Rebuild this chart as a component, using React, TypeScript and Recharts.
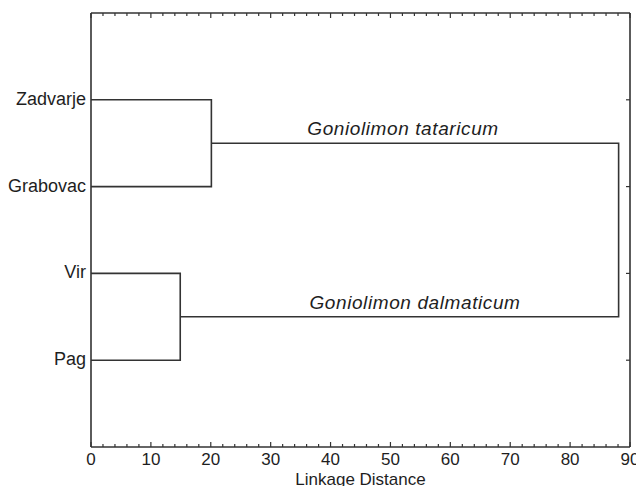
import React from 'react'
import { LineChart, Line, XAxis, YAxis, ReferenceDot } from 'recharts'

const FONT = '"Liberation Sans", Arial, sans-serif'
const INK = '#1e1e1e'
const EDGE = '#333'

// leaves, top to bottom
const leaves = ['Zadvarje', 'Grabovac', 'Vir', 'Pag']
const leafPos = [1, 2, 3, 4]

// linkage distance ticks (minor every 2, labelled every 10)
const xTicks = [0, 2, 4, 6, 8, 10, 12, 14, 16, 18, 20, 22, 24, 26, 28, 30, 32, 34, 36, 38, 40, 42, 44, 46, 48, 50, 52, 54, 56, 58, 60, 62, 64, 66, 68, 70, 72, 74, 76, 78, 80, 82, 84, 86, 88, 90]

// dendrogram links (x = linkage distance, y = leaf slot)
const linkZadvarjeGrabovac = [{ x: 0, y: 1 }, { x: 20.1, y: 1 }, { x: 20.1, y: 2 }, { x: 0, y: 2 }]
const linkVirPag = [{ x: 0, y: 3 }, { x: 14.9, y: 3 }, { x: 14.9, y: 4 }, { x: 0, y: 4 }]
const linkRoot = [{ x: 20.1, y: 1.5 }, { x: 88.1, y: 1.5 }, { x: 88.1, y: 3.5 }, { x: 14.9, y: 3.5 }]

const clusterNames = ['Goniolimon tataricum', 'Goniolimon dalmaticum']
const clusterX = [52.1, 54.1]
const clusterY = [1.5, 3.5]

const BottomTick = ({ x, y, payload }: any) => {
  const major = payload.value % 10 === 0
  return (
    <g>
      <line x1={x} y1={y} x2={x} y2={y - (major ? 5 : 3)} stroke={EDGE} strokeWidth={1.2} />
      {major && (
        <text x={x} y={y + 18} textAnchor="middle" fontSize={17} fontFamily={FONT} fill={INK}>
          {payload.value}
        </text>
      )}
    </g>
  )
}

const TopTick = ({ x, y, payload }: any) => {
  const major = payload.value % 10 === 0
  return <line x1={x} y1={y} x2={x} y2={y + (major ? 5 : 3)} stroke={EDGE} strokeWidth={1.2} />
}

const LeftTick = ({ x, y, payload }: any) => (
  <text x={x - 5} y={y} dy={5} textAnchor="end" fontSize={18} fontFamily={FONT} fill={INK}>
    {leaves[payload.value - 1]}
  </text>
)

const RightTick = ({ x, y }: any) => <line x1={x} y1={y} x2={x - 4} y2={y} stroke={EDGE} strokeWidth={1.2} />

const clusterLabel = (name: string) => (props: any) => {
  const vb = props.viewBox
  return (
    <text x={vb.x} y={vb.y - 8} textAnchor="middle" fontSize={19} fontStyle="italic"
      letterSpacing={0.6} fontFamily={FONT} fill={INK}>
      {name}
    </text>
  )
}

const axisLine = { stroke: EDGE, strokeWidth: 1.6 }

export default function App() {
  return (
    <div style={{ position: 'absolute', left: 0, top: 0, background: '#fff' }}>
      <LineChart width={636} height={486} margin={{ top: 12, right: 5, bottom: 0, left: 0 }}>
        <XAxis dataKey="x" type="number" domain={[0, 90]} ticks={xTicks} interval={0}
          height={39} tickSize={0} tickMargin={0} tickLine={false} axisLine={axisLine}
          tick={<BottomTick />} allowDataOverflow
          label={{
            content: (p: any) => (
              <text x={p.viewBox.x + p.viewBox.width / 2} y={485} textAnchor="middle"
                fontSize={17} fontFamily={FONT} fill={INK}>Linkage Distance</text>
            ),
          }} />
        <XAxis xAxisId="top" dataKey="x" orientation="top" type="number" domain={[0, 90]} ticks={xTicks}
          interval={0} height={1} tickSize={0} tickMargin={0} tickLine={false} axisLine={axisLine}
          tick={<TopTick />} allowDataOverflow />
        <YAxis dataKey="y" type="number" domain={[0, 5]} reversed ticks={leafPos} interval={0}
          width={91} tickSize={0} tickMargin={0} tickLine={false} axisLine={axisLine}
          tick={<LeftTick />} allowDataOverflow />
        <YAxis yAxisId="right" dataKey="y" orientation="right" type="number" domain={[0, 5]} reversed
          ticks={leafPos} interval={0} width={1} tickSize={0} tickMargin={0} tickLine={false}
          axisLine={axisLine} tick={<RightTick />} allowDataOverflow />

        <Line data={linkZadvarjeGrabovac} dataKey="y" type="linear" stroke={EDGE} strokeWidth={1.6}
          dot={false} activeDot={false} isAnimationActive={false} />
        <Line data={linkVirPag} dataKey="y" type="linear" stroke={EDGE} strokeWidth={1.6}
          dot={false} activeDot={false} isAnimationActive={false} />
        <Line data={linkRoot} dataKey="y" type="linear" stroke={EDGE} strokeWidth={1.6}
          dot={false} activeDot={false} isAnimationActive={false} />
        {/* same root link on the mirrored axes so they get drawn (invisible) */}
        <Line data={linkRoot} dataKey="y" xAxisId="top" yAxisId="right" type="linear" stroke="none"
          dot={false} activeDot={false} isAnimationActive={false} legendType="none" />

        {clusterNames.map((n, i) => (
          <ReferenceDot key={n} x={clusterX[i]} y={clusterY[i]} r={0} stroke="none" fill="none"
            label={{ content: clusterLabel(n) }} />
        ))}
      </LineChart>
    </div>
  )
}
